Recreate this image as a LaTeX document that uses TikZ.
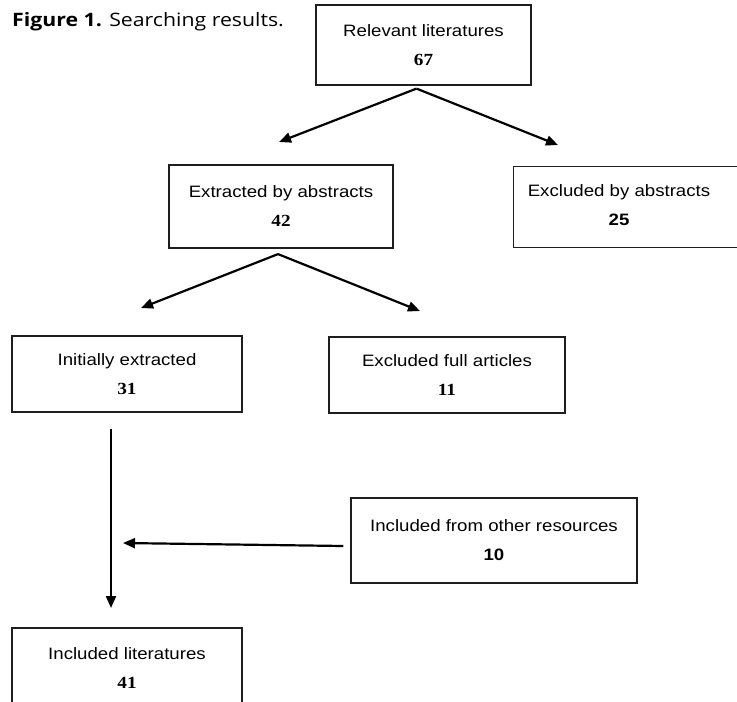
\documentclass[tikz,border=0pt]{standalone}
\usepackage{fontspec}
\setmainfont[FakeStretch=1.13]{Liberation Sans}
\newfontfamily\numFont[FakeStretch=1.13]{Liberation Serif}
\newfontfamily\captionFont[FakeStretch=1.15]{Open Sans}
\usetikzlibrary{arrows.meta, calc}
\definecolor{boxLine}{RGB}{30,30,30}

\begin{document}
\begin{tikzpicture}[x=1pt, y=-1pt,
	boxtext/.style={align=center, inner sep=0pt, font=\fontsize{16.5}{29}\selectfont},
	box/.style={boxtext, draw=boxLine, line width=1.2pt},
	flow/.style={line width=2.2pt, -{Triangle[length=12pt, width=10pt]}}]

	\useasboundingbox (0,0) rectangle (737,702);

% Draw caption.

	\node[anchor=base west, inner sep=0pt, font=\captionFont\fontsize{18.5}{20}\selectfont] (caption) at (12,26) {\textbf{Figure 1.} Searching results.};

% Draw boxes.

	\node[box, minimum width=215pt, minimum height=80pt] (relevant) at (423.5,45) {Relevant literatures\\{\numFont\bfseries\fontsize{17}{29}\selectfont 67}};
	\node[box, minimum width=224pt, minimum height=83pt] (extracted) at (281,206.5) {Extracted by abstracts\\{\numFont\bfseries\fontsize{17}{29}\selectfont 42}};
	\node[box, minimum width=250pt, minimum height=80.5pt, anchor=north west] (excludedAbs) at (513,166) {};
	\node[boxtext] (excludedAbsText) at (619,205) {Excluded by abstracts\\\textbf{25}};
	\node[box, minimum width=230pt, minimum height=76pt] (initial) at (127,374) {Initially extracted\\{\numFont\bfseries\fontsize{17}{29}\selectfont 31}};
	\node[box, minimum width=236pt, minimum height=76pt] (excludedFull) at (447,375) {Excluded full articles\\{\numFont\bfseries\fontsize{17}{29}\selectfont 11}};
	\node[box, minimum width=286pt, minimum height=85pt] (other) at (494,540.5) {Included from other resources\\\textbf{10}};
	\node[box, minimum width=230pt, minimum height=80pt] (included) at (127,668) {Included literatures\\{\numFont\bfseries\fontsize{17}{29}\selectfont 41}};

% Define coordinates.

	%forks under the boxes
	\coordinate (relevantFork) at ($(relevant.south)+(-7,3)$);
	\coordinate (extractedFork) at ($(extracted.south)+(-3,5.5)$);
	\coordinate (initialTail) at ($(initial.south)+(-16,16)$);
	\coordinate (otherTail) at ($(other.west)+(-7,5.5)$);

	%arrow tips
	\coordinate (extractedTip) at (279,142);
	\coordinate (excludedAbsTip) at (558,145);
	\coordinate (initialTip) at (141,308);
	\coordinate (excludedFullTip) at (420,311);
	\coordinate (includedTip) at (111,608);
	\coordinate (otherTip) at (123,543);

% Draw arrows.

	\draw[flow] (relevantFork) -- (extractedTip);
	\draw[flow] (relevantFork) -- (excludedAbsTip);
	\draw[flow] (extractedFork) -- (initialTip);
	\draw[flow] (extractedFork) -- (excludedFullTip);
	\draw[flow] (initialTail) -- (includedTip);
	\draw[flow] (otherTail) -- (otherTip);

\end{tikzpicture}
\end{document}
